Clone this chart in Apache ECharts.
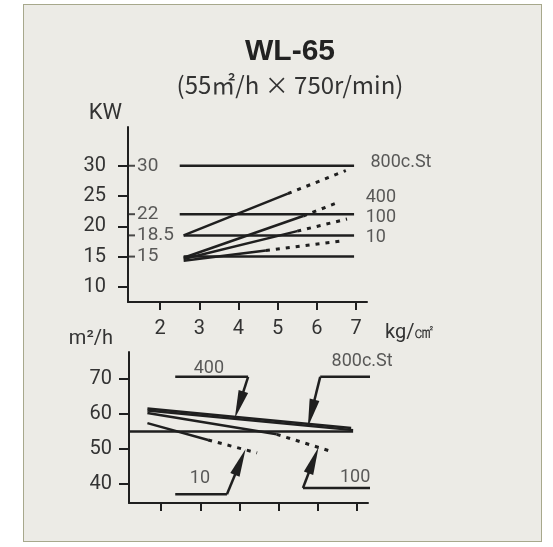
<!DOCTYPE html>
<html>
<head>
<meta charset="utf-8">
<script src="https://cdn.jsdelivr.net/npm/echarts@6/dist/echarts.min.js"></script>
<style>
html, body { margin: 0; padding: 0; background: #fff; }
#panel {
  position: absolute; left: 23px; top: 4px; width: 519px; height: 538px;
  background: #ecebe6; border: 1.5px solid #a7a88c; box-sizing: border-box;
}
#main { position: absolute; left: 0; top: 0; width: 553px; height: 547px; }
</style>
</head>
<body>
<div id="panel"></div>
<div id="main"></div>
<script>
// ---- data ----
var pressTicks = [2, 3, 4, 5, 6, 7]
var kwTicks = [10, 15, 20, 25, 30]
var flowTicks = [40, 50, 60, 70]

// motor ratings (horizontal lines in the kW chart)
var motorKw = [30, 22, 18.5, 15]
var motorFrom = [2.5, 2.5, 2.6, 2.6]
var motorTo = [6.95, 6.95, 6.95, 6.95]

// shaft power by viscosity: start, end of solid part, end of dotted part
var viscNames = ['800c.St', '400', '100', '10']
var kwStart = [[2.6, 18.5], [2.6, 14.8], [2.6, 14.6], [2.6, 14.3]]
var kwSolidEnd = [[5.26, 25.4], [5.65, 21.7], [5.5, 19.2], [4.7, 16.0]]
var kwDotEnd = [[6.74, 29.2], [6.56, 24.0], [6.77, 21.2], [6.65, 17.6]]
var kwNameAt = [[7.38, 30.5], [7.26, 24.7], [7.26, 21.4], [7.26, 18.1]]

// capacity chart
var ratedFlow = 55
var flow400 = [[1.65, 61.6], [6.85, 56.0]]
var flow800 = [[1.65, 61.0], [6.9, 55.4]]
var flow100 = [[1.65, 60.3], [4.95, 54.2]]
var flow100Dot = [[4.95, 54.2], [6.35, 49.3]]
var flow10 = [[1.65, 57.4], [3.2, 52.6]]
var flow10Dot = [[3.2, 52.6], [4.45, 48.9]]

// callouts in the capacity chart: label, label point, leader, arrow end
var calloutNames = ['400', '800c.St', '10', '100']
var calloutAt = [[3.22, 73.1], [7.13, 74.9], [2.99, 41.7], [6.95, 42.0]]
var calloutLeader = [
  [[2.36, 70.6], [4.22, 70.6]],
  [[7.66, 70.6], [6.06, 70.6]],
  [[2.36, 37.1], [3.68, 37.1]],
  [[7.77, 38.9], [5.62, 38.9]]
]
var calloutTip = [[3.99, 62.6], [5.83, 60.2], [4.02, 46.3], [5.89, 46.8]]

var xRange = [1.18, 7.28]
var ink = '#1f1f1f'
var txt = '#333'
var font = "Roboto, 'DejaVu Sans', sans-serif"

var chart = echarts.init(document.getElementById('main'))

function lineSeries(pts, gi, dotted) {
  return {
    type: 'line',
    xAxisIndex: gi,
    yAxisIndex: gi,
    data: pts,
    symbol: 'none',
    clip: false,
    silent: true,
    lineStyle: {
      color: ink,
      width: dotted ? 3 : 2.5,
      type: dotted ? [4, 6] : 'solid'
    }
  }
}

function textSeries(pts, names, gi, pos, size) {
  return {
    type: 'scatter',
    xAxisIndex: gi,
    yAxisIndex: gi,
    symbolSize: 1,
    clip: false,
    itemStyle: { color: 'rgba(0,0,0,0)' },
    data: pts.map(function (p, i) {
      return { value: p, name: names[i] }
    }),
    label: {
      show: true,
      position: pos,
      distance: 0,
      formatter: '{b}',
      color: txt,
      fontSize: size,
      fontFamily: font
    }
  }
}

var series = []

// top chart
motorKw.forEach(function (kw, i) {
  series.push(lineSeries([[motorFrom[i], kw], [motorTo[i], kw]], 0, false))
})
viscNames.forEach(function (n, i) {
  series.push(lineSeries([kwStart[i], kwSolidEnd[i]], 0, false))
  series.push(lineSeries([kwSolidEnd[i], kwDotEnd[i]], 0, true))
})
// motor rating ticks and labels next to the axis
series.push({
  type: 'scatter',
  xAxisIndex: 0,
  yAxisIndex: 0,
  symbol: 'rect',
  symbolSize: [7, 2],
  symbolOffset: [3.5, 0],
  clip: false,
  itemStyle: { color: ink },
  data: motorKw.map(function (kw) { return [xRange[0], kw] }),
  label: {
    show: true,
    position: 'right',
    distance: 2,
    formatter: function (p) { return p.value[1] },
    color: txt,
    fontSize: 19,
    fontFamily: font
  }
})
series.push(textSeries(kwNameAt, viscNames, 0, 'insideLeft', 18))

// bottom chart
series.push(lineSeries([[xRange[0], ratedFlow], [6.9, ratedFlow]], 1, false))
series.push(lineSeries(flow400, 1, false))
series.push(lineSeries(flow800, 1, false))
series.push(lineSeries(flow100, 1, false))
series.push(lineSeries(flow100Dot, 1, true))
series.push(lineSeries(flow10, 1, false))
series.push(lineSeries(flow10Dot, 1, true))

calloutLeader.forEach(function (pts) {
  series.push(lineSeries(pts, 1, false))
})
series.push({
  type: 'lines',
  coordinateSystem: 'cartesian2d',
  xAxisIndex: 1,
  yAxisIndex: 1,
  clip: false,
  silent: true,
  symbol: ['none', 'path://M5,0 L10,30 L0,30 Z'],
  symbolSize: [0, [10, 28]],
  lineStyle: { color: ink, width: 2.5, opacity: 1, curveness: 0 },
  data: calloutLeader.map(function (pts, i) {
    return { coords: [pts[1], calloutTip[i]] }
  })
})
series.push(textSeries(calloutAt, calloutNames, 1, 'inside', 18))

function xAxis(gi, withLabels) {
  return {
    type: 'value',
    gridIndex: gi,
    min: xRange[0],
    max: xRange[1],
    name: withLabels ? 'kg/㎠' : '',
    nameLocation: 'end',
    nameGap: 18,
    nameTextStyle: {
      color: txt, fontSize: 20, fontFamily: font,
      verticalAlign: 'top', padding: [21, 0, 0, 0]
    },
    axisLine: { show: true, onZero: false, lineStyle: { color: ink, width: 2 } },
    axisTick: { show: true, customValues: pressTicks, length: 8, lineStyle: { color: ink, width: 2 } },
    axisLabel: {
      show: withLabels, customValues: pressTicks, margin: 17,
      color: txt, fontSize: 20, fontFamily: font
    },
    splitLine: { show: false }
  }
}

function yAxis(gi, min, max, ticks, name, labelMargin, namePad, nameSize) {
  return {
    type: 'value',
    gridIndex: gi,
    min: min,
    max: max,
    name: name,
    nameLocation: 'end',
    nameGap: 3,
    nameTextStyle: {
      color: txt, fontSize: nameSize, fontFamily: font,
      align: 'right', padding: [0, namePad, 0, 0]
    },
    axisLine: { show: true, onZero: false, lineStyle: { color: ink, width: 2 } },
    axisTick: { show: true, customValues: ticks, length: 10, lineStyle: { color: ink, width: 2 } },
    axisLabel: {
      customValues: ticks, margin: labelMargin,
      color: txt, fontSize: 20, fontFamily: font
    },
    splitLine: { show: false }
  }
}

chart.setOption({
  animation: false,
  title: {
    text: 'WL-65',
    subtext: '(55㎡/h × 750r/min)',
    left: 285,
    top: 32,
    textAlign: 'center',
    itemGap: 6,
    textStyle: { color: '#222', fontSize: 30, fontWeight: 'bold', fontFamily: "'Liberation Sans', sans-serif" },
    subtextStyle: { color: txt, fontSize: 24, fontFamily: "'Noto Sans CJK JP', Roboto, sans-serif" }
  },
  grid: [
    { left: 128, top: 127, width: 239, height: 175 },
    { left: 129, top: 352, width: 239, height: 151 }
  ],
  xAxis: [xAxis(0, true), xAxis(1, false)],
  yAxis: [
    yAxis(0, 7.5, 36.4, kwTicks, 'KW', 22, 6, 22),
    yAxis(1, 34.6, 77.7, flowTicks, 'm²/h', 17, 16, 20)
  ],
  series: series
})
</script>
</body>
</html>
